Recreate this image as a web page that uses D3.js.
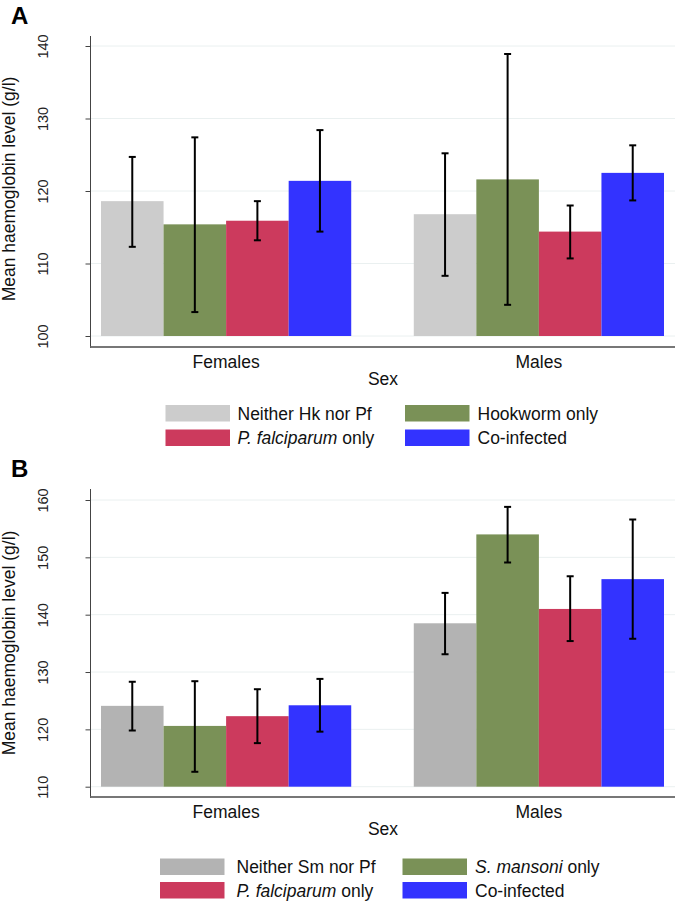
<!DOCTYPE html>
<html>
<head>
<meta charset="utf-8">
<script src="https://cdn.jsdelivr.net/npm/d3@7"></script>
<style>
  body { margin: 0; background: #fff; }
  svg { display: block; font-family: "Liberation Sans", Arial, sans-serif; }
</style>
</head>
<body>
<svg id="chart" width="685" height="907"></svg>
<script>
// categories
const sexes = ["Females", "Males"];

// panel A (hookworm)
const labelsA = ["Neither Hk nor Pf", "Hookworm only", "P. falciparum only", "Co-infected"];
const italicA = ["", "", "P. falciparum", ""];
const ticksA = [100, 110, 120, 130, 140];
const meanA_F = [118.6, 115.4, 115.9, 121.4];
const lowA_F  = [112.3, 103.3, 113.2, 114.4];
const highA_F = [124.7, 127.4, 118.6, 128.4];
const meanA_M = [116.8, 121.6, 114.4, 122.5];
const lowA_M  = [108.3, 104.3, 110.7, 118.7];
const highA_M = [125.2, 138.9, 118.0, 126.3];

// panel B (S. mansoni)
const labelsB = ["Neither Sm nor Pf", "S. mansoni only", "P. falciparum only", "Co-infected"];
const italicB = ["", "S. mansoni", "P. falciparum", ""];
const ticksB = [110, 120, 130, 140, 150, 160];
const meanB_F = [124.1, 120.6, 122.3, 124.2];
const lowB_F  = [119.8, 112.6, 117.6, 119.6];
const highB_F = [128.3, 128.4, 127.0, 128.8];
const meanB_M = [138.5, 154.0, 141.0, 146.2];
const lowB_M  = [133.1, 149.1, 135.4, 135.8];
const highB_M = [143.8, 158.8, 146.7, 156.6];

const colorsA = ["#cccccc", "#7a9157", "#cc3a5d", "#3333ff"];
const colorsB = ["#b3b3b3", "#7a9157", "#cc3a5d", "#3333ff"];

const svg = d3.select("#chart");

function drawPanel(opt) {
    const g = svg.append("g");
    const left = 90.5, right = 675;

    const y = d3.scaleLinear().domain(opt.domain).range(opt.yRange);
    const x0 = d3.scaleBand().domain(sexes).range([101, 664]).paddingInner(0.2).paddingOuter(0);
    const x1 = d3.scaleBand().domain(d3.range(4)).range([0, x0.bandwidth()]).padding(0);

    // panel letter
    g.append("text")
        .attr("x", 11).attr("y", opt.letterY)
        .attr("font-size", 24).attr("font-weight", "bold")
        .text(opt.letter);

    // grid
    g.selectAll(".grid").data(opt.ticks).enter().append("line")
        .attr("x1", left).attr("x2", right)
        .attr("y1", d => y(d)).attr("y2", d => y(d))
        .attr("stroke", "#eaf0f0").attr("stroke-width", 1);

    // y axis
    const yAxis = d3.axisLeft(y).tickValues(opt.ticks).tickSize(5).tickPadding(0).tickFormat(d3.format("d"));
    const ya = g.append("g").attr("transform", `translate(${left},0)`).call(yAxis);
    ya.select(".domain").remove();
    ya.selectAll(".tick line").attr("stroke", "#444");
    ya.selectAll(".tick text")
        .attr("font-size", 14.5).attr("fill", "#222")
        .attr("text-anchor", "middle")
        .attr("transform", "rotate(-90)")
        .attr("x", 0).attr("y", 0).attr("dy", 0)
        .attr("dx", 0);
    ya.selectAll(".tick text").each(function () {
        d3.select(this).attr("transform", `translate(${48 - left},0) rotate(-90)`);
    });
    g.append("line")
        .attr("x1", left).attr("x2", left)
        .attr("y1", opt.axisTop).attr("y2", opt.axisBottom + 1)
        .attr("stroke", "#444").attr("stroke-width", 1);

    // bars
    const rows = [];
    sexes.forEach((s, si) => {
        opt.means[si].forEach((m, k) => {
            rows.push({ sex: s, k: k, mean: m, low: opt.lows[si][k], high: opt.highs[si][k] });
        });
    });

    g.selectAll(".bar").data(rows).enter().append("rect")
        .attr("x", d => x0(d.sex) + x1(d.k))
        .attr("width", x1.bandwidth())
        .attr("y", d => y(d.mean))
        .attr("height", d => y(opt.domain[0]) - y(d.mean))
        .attr("fill", d => opt.colors[d.k]);

    // error bars
    const cap = 3.5;
    const eb = g.selectAll(".err").data(rows).enter().append("g")
        .attr("stroke", "#000").attr("stroke-width", 2);
    eb.append("line")
        .attr("x1", d => x0(d.sex) + x1(d.k) + x1.bandwidth() / 2)
        .attr("x2", d => x0(d.sex) + x1(d.k) + x1.bandwidth() / 2)
        .attr("y1", d => y(d.low)).attr("y2", d => y(d.high));
    ["low", "high"].forEach(key => {
        eb.append("line")
            .attr("x1", d => x0(d.sex) + x1(d.k) + x1.bandwidth() / 2 - cap)
            .attr("x2", d => x0(d.sex) + x1(d.k) + x1.bandwidth() / 2 + cap)
            .attr("y1", d => y(d[key])).attr("y2", d => y(d[key]));
    });

    // x axis
    g.append("line")
        .attr("x1", left).attr("x2", right)
        .attr("y1", opt.axisBottom).attr("y2", opt.axisBottom)
        .attr("stroke", "#777").attr("stroke-width", 2);
    g.selectAll(".xlab").data(sexes).enter().append("text")
        .attr("x", d => x0(d) + x0.bandwidth() / 2)
        .attr("y", opt.axisBottom + 21)
        .attr("text-anchor", "middle").attr("font-size", 17.5).attr("fill", "#111")
        .text(d => d);
    g.append("text")
        .attr("x", 383).attr("y", opt.axisBottom + 38)
        .attr("text-anchor", "middle").attr("font-size", 17.5).attr("fill", "#111")
        .text("Sex");

    // y title
    g.append("text")
        .attr("transform", `translate(15,${opt.titleY}) rotate(-90)`)
        .attr("text-anchor", "middle").attr("font-size", 17.5).attr("fill", "#111")
        .text("Mean haemoglobin level (g/l)");

    // legend
    opt.labels.forEach((lab, k) => {
        const col = k % 2, row = Math.floor(k / 2);
        const lx = opt.legX[col], ly = opt.legY[row];
        g.append("rect")
            .attr("x", lx).attr("y", ly)
            .attr("width", 64.5).attr("height", 16.5)
            .attr("fill", opt.colors[k]);
        const t = g.append("text")
            .attr("x", opt.legTextX[col]).attr("y", ly + 14.5)
            .attr("font-size", 17.5).attr("fill", "#111");
        const it = opt.italic[k];
        if (it) {
            t.append("tspan").attr("font-style", "italic").text(it);
            t.append("tspan").text(lab.slice(it.length));
        } else {
            t.text(lab);
        }
    });
}

drawPanel({
    letter: "A", letterY: 24,
    domain: [100, 140], yRange: [336, 46], ticks: ticksA,
    axisTop: 36, axisBottom: 347, titleY: 189,
    means: [meanA_F, meanA_M], lows: [lowA_F, lowA_M], highs: [highA_F, highA_M],
    colors: colorsA, labels: labelsA, italic: italicA,
    legX: [165.5, 405], legTextX: [237.5, 477.5], legY: [405, 429.5]
});

drawPanel({
    letter: "B", letterY: 477,
    domain: [110, 160], yRange: [786.7, 500], ticks: ticksB,
    axisTop: 489, axisBottom: 797, titleY: 643,
    means: [meanB_F, meanB_M], lows: [lowB_F, lowB_M], highs: [highB_F, highB_M],
    colors: colorsB, labels: labelsB, italic: italicB,
    legX: [160, 402.5], legTextX: [236.5, 475], legY: [858.5, 882]
});
</script>
</body>
</html>
